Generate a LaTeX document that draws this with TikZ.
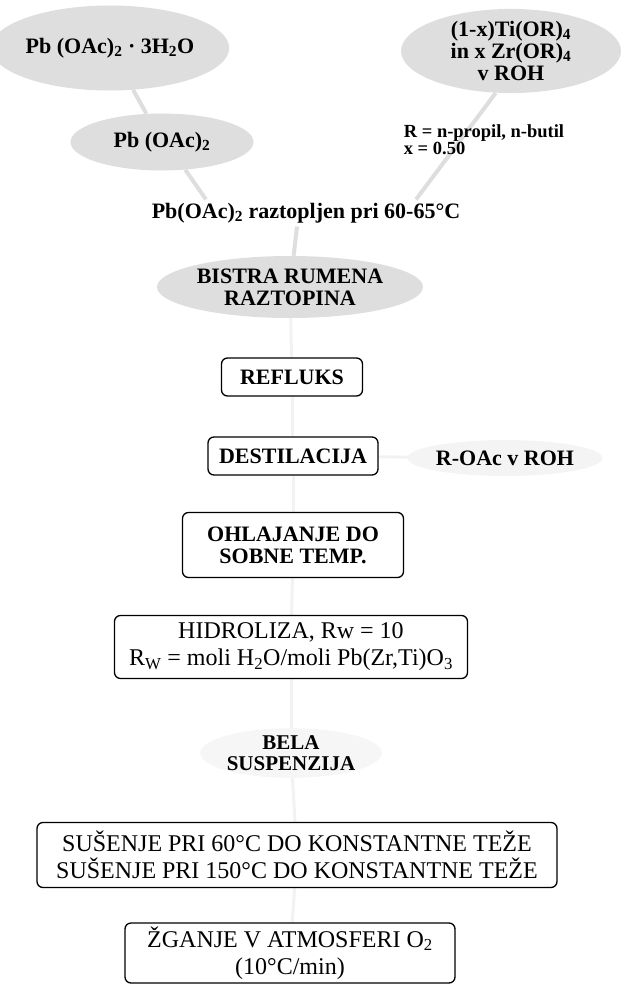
\documentclass[tikz,border=0pt]{standalone}
\usepackage{fontspec}
\setmainfont{Liberation Serif}
\usetikzlibrary{shapes.geometric,backgrounds}
\newcommand{\ssub}[1]{\textsubscript{#1}}
\definecolor{scangray}{RGB}{222,222,222}

\begin{document}
\begin{tikzpicture}[
    x=1pt, y=-1pt,
    cloud/.style={ellipse, fill=scangray, inner sep=0pt, align=center, font=\bfseries\fontsize{22}{22}\selectfont},
    paletext/.style={align=center, font=\bfseries\fontsize{22}{22}\selectfont},
    stepbox/.style={draw, line width=1.3pt, rounded corners=6pt, inner sep=0pt, align=center, font=\bfseries\fontsize{22}{22}\selectfont},
    plainbox/.style={stepbox, font=\fontsize{24}{27}\selectfont},
    link/.style={scangray, line width=4pt},
    faintlink/.style={gray!10, line width=3pt}
  ]
  \useasboundingbox (0,0) rectangle (622,985);
  % izhodne snovi
  \node[cloud, minimum width=220, minimum height=85] (hydrate) at (110,48) {Pb (OAc)\ssub{2} · 3H\ssub{2}O};
  \node[cloud, minimum width=183, minimum height=57] (anhyd) at (162,142) {Pb (OAc)\ssub{2}};
  \node[cloud, minimum width=220, minimum height=82] (mix) at (511,51) {(1-x)Ti(OR)\ssub{4}\\in x Zr(OR)\ssub{4}\\v ROH};
  \node[paletext, align=left, font=\bfseries\fontsize{18.5}{16}\selectfont] (legend) at (484,140) {R = n-propil, n-butil\\ x = 0.50};
  \node[paletext] (dissolved) at (306,213) {Pb(OAc)\ssub{2} raztopljen pri 60-65°C};
  \node[cloud, minimum width=266, minimum height=62] (bistra) at (290,287) {BISTRA RUMENA\\RAZTOPINA};
  % postopek
  \node[stepbox, minimum width=141, minimum height=38] (reflux) at (292,377) {REFLUKS};
  \node[stepbox, minimum width=170, minimum height=38] (distil) at (293,456) {DESTILACIJA};
  \node[cloud, fill=gray!9, minimum width=170, minimum height=36] (byprod) at (505,458) {R-OAc v ROH};
  \node[stepbox, minimum width=221, minimum height=65] (cool) at (293,545) {OHLAJANJE DO\\SOBNE TEMP.};
  \node[plainbox, minimum width=353, minimum height=63] (hydro) at (291,647) {HIDROLIZA, Rw = 10\\R\ssub{W} = moli H\ssub{2}O/moli Pb(Zr,Ti)O\ssub{3}};
  \node[cloud, fill=gray!7, minimum width=170, minimum height=48, font=\bfseries\fontsize{21}{21}\selectfont] (white) at (291,753) {BELA\\SUSPENZIJA};
  \node[plainbox, minimum width=520, minimum height=65] (dry) at (297,855) {SUŠENJE PRI 60°C DO KONSTANTNE TEŽE\\SUŠENJE PRI 150°C DO KONSTANTNE TEŽE};
  \node[plainbox, minimum width=330, minimum height=60] (fire) at (290,953) {ŽGANJE V ATMOSFERI O\ssub{2}\\(10°C/min)};
  % povezave
  \begin{scope}[on background layer]
    \draw[link] (hydrate) -- (anhyd);
    \draw[link] (anhyd.-50) -- ([xshift=-100pt]dissolved.north);
    \draw[link] (mix.-110) -- ([xshift=110pt]dissolved.north);
    \draw[link] ([xshift=-9pt]dissolved.south) -- (bistra);
    \draw[faintlink] (bistra) -- (reflux);
    \draw[faintlink] (reflux) -- (distil);
    \draw[faintlink] (distil) -- (byprod);
    \draw[faintlink] (distil) -- (cool);
    \draw[faintlink] (cool) -- (hydro);
    \draw[faintlink] (hydro) -- (white);
    \draw[faintlink] (white) -- (dry);
    \draw[faintlink] (dry) -- (fire);
  \end{scope}
\end{tikzpicture}
\end{document}
